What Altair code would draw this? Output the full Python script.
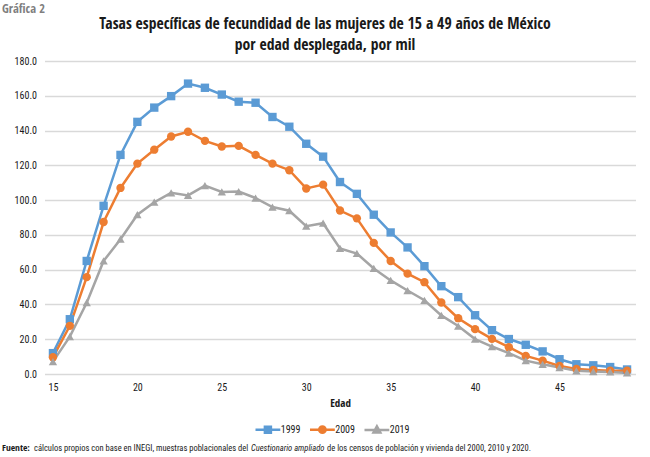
import altair as alt
import pandas as pd

edad = list(range(15, 50))
tasa_1999 = [12, 31.5, 65, 96.7, 126, 145, 153.2, 159.8, 167, 164.6, 160.7, 156.6, 156, 147.8, 142.2,
             132.4, 125, 110.4, 103.6, 91.6, 81.4, 72.8, 62, 50.5, 44.2, 33.8, 25.2, 20.1, 16.8, 13,
             8.5, 5.6, 5.0, 4.0, 2.6]
tasa_2009 = [9.6, 27.7, 55.7, 87.4, 107, 121, 129, 136.6, 139.3, 134.1, 130.8, 131.2, 126, 121, 117.2,
             106.7, 108.9, 94, 89.5, 75.4, 65, 57.7, 52.8, 41.1, 32.1, 25.8, 20.2, 15.4, 10.4, 7.7,
             4.6, 2.9, 2.3, 1.9, 1.9]
tasa_2019 = [7.1, 21.5, 41, 65, 77.5, 91.6, 98.8, 104.2, 102.7, 108.3, 104.7, 104.9, 101.2, 96, 93.9,
             85, 86.7, 72.2, 69.3, 60.7, 53.8, 48, 42.4, 33.7, 27.6, 20.1, 15.8, 12, 7.7, 5.6,
             3.7, 1.8, 1.4, 1.2, 0.6]
series = ["1999", "2009", "2019"]
colores = ["#5B9BD5", "#ED7D31", "#A5A5A5"]
formas = ["square", "circle", "triangle-up"]
# legend symbols: a short line with the marker on it (unit-square SVG paths)
formas_leyenda = [
    "M-3.1,0H3.1M-0.75,-0.75H0.75V0.75H-0.75Z",
    "M-3.1,0H3.1M-0.8,0A0.8,0.8,0,1,1,0.8,0A0.8,0.8,0,1,1,-0.8,0Z",
    "M-3.1,0H3.1M0,-0.95L0.85,0.6H-0.85Z",
]
x_ticks = [15, 20, 25, 30, 35, 40, 45]
y_ticks = list(range(0, 181, 20))

titulo_1 = "Tasas específicas de fecundidad de las mujeres de 15 a 49 años de México"
titulo_2 = "por edad desplegada, por mil"
etiqueta = "Gráfica 2"
fuente_1 = "Fuente:"
fuente_2 = "cálculos propios con base en INEGI, muestras poblacionales del"
fuente_3 = "Cuestionario ampliado"
fuente_4 = "de los censos de población y vivienda del 2000, 2010 y 2020."

rows = []
for s, vals in zip(series, [tasa_1999, tasa_2009, tasa_2019]):
    for e, v in zip(edad, vals):
        rows.append({"edad": e, "tasa": v, "serie": s, "serie_l": s})
df = pd.DataFrame(rows)

FONT = "Roboto Condensed"
FONT_B = "Open Sans Condensed"
TXT = "#1a1a1a"

x_enc = alt.X("edad:Q",
              scale=alt.Scale(domain=[14.5, 49.5], nice=False, zero=False),
              axis=alt.Axis(values=x_ticks, grid=False, ticks=False, domain=False,
                            labelFont=FONT, labelFontSize=10, labelColor=TXT,
                            labelPadding=8, title="Edad", titleFont=FONT_B, titleFontSize=11,
                            titleFontWeight="bold", titleColor=TXT, titlePadding=5))
y_enc = alt.Y("tasa:Q",
              scale=alt.Scale(domain=[0, 180], nice=False),
              axis=alt.Axis(values=y_ticks, format=".1f", grid=True, gridColor="#D9D9D9",
                            gridWidth=1.3, ticks=False, domain=False, labelFont=FONT,
                            labelFontSize=10, labelColor=TXT, labelPadding=8, title=None))

leyenda = alt.Legend(
    orient="none", legendX=209.5, legendY=363, direction="horizontal", title=None,
    symbolSize=64, symbolOffset=8.4, labelOffset=7.3, columnPadding=3.5,
    symbolStrokeWidth=2.5, symbolOpacity=1,
    labelFont=FONT, labelFontSize=10, labelColor=TXT,
)

color_scale = alt.Scale(domain=series, range=colores)

lineas = alt.Chart(df).mark_line(strokeWidth=2.5).encode(
    x=x_enc, y=y_enc, color=alt.Color("serie:N", scale=color_scale, legend=None))

puntos = alt.Chart(df).mark_point(filled=True, size=70, opacity=1).encode(
    x=x_enc, y=y_enc,
    color=alt.Color("serie:N", scale=color_scale, legend=None),
    shape=alt.Shape("serie:N", scale=alt.Scale(domain=series, range=formas), legend=None),
)

# legend-only layer: draws no marks, carries the combined line+marker legend
clave = alt.Chart(df).transform_filter("false").mark_point(
    filled=True, size=64, opacity=1, strokeWidth=2.5).encode(
    x=x_enc, y=y_enc,
    stroke=alt.Stroke("serie_l:N", scale=color_scale, legend=leyenda),
    fill=alt.Fill("serie_l:N", scale=color_scale, legend=leyenda),
    shape=alt.Shape("serie_l:N", scale=alt.Scale(domain=series, range=formas_leyenda),
                    legend=leyenda),
)


def texto(t, x, y, **kw):
    return alt.Chart(pd.DataFrame({"t": [t]})).mark_text(baseline="middle", **kw).encode(
        text="t:N", x=alt.value(x), y=alt.value(y))


notas = [
    texto(etiqueta, -42.5, -52, align="left", font=FONT_B, fontSize=12.5, fontWeight="bold",
          color="#7F7F7F"),
    texto(titulo_1, 280.5, -37.5, align="center", font=FONT_B, fontSize=15.7, fontWeight="bold",
          color=TXT),
    texto(titulo_2, 280.5, -16.5, align="center", font=FONT_B, fontSize=15.7, fontWeight="bold",
          color=TXT),
    texto(fuente_1, -42.5, 387, align="left", font=FONT_B, fontSize=9.5, fontWeight="bold",
          color=TXT),
    texto(fuente_2, -10.5, 387, align="left", font=FONT, fontSize=8.5, color=TXT),
    texto(fuente_3, 206.5, 387, align="left", font=FONT, fontSize=8.5, fontStyle="italic",
          color=TXT),
    texto(fuente_4, 282.5, 387, align="left", font=FONT, fontSize=8.5, color=TXT),
]

chart = alt.layer(lineas, puntos, clave, *notas).resolve_scale(
    shape="independent", color="independent", fill="independent",
    stroke="independent").properties(
    width=591, height=313,
    autosize=alt.AutoSizeParams(type="none"),
    padding={"left": 44.5, "top": 61, "right": 14.5, "bottom": 83},
).configure_view(stroke=None)

chart.save("out.html", embed_options={"renderer": "svg", "actions": False})
